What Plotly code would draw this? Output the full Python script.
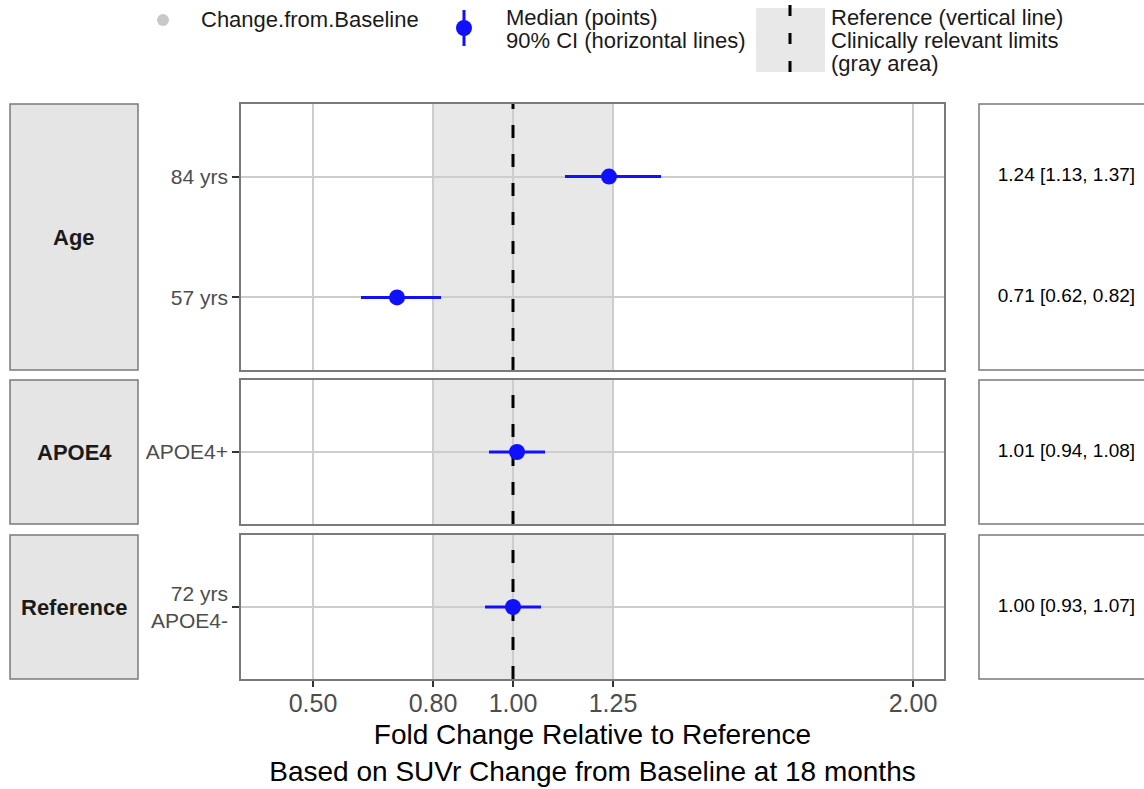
import plotly.graph_objects as go

# ---------------- data ----------------
groups = ["Age", "Age", "APOE4", "Reference"]
labels = ["84 yrs", "57 yrs", "APOE4+", "72 yrs<br>APOE4-"]
median = [1.24, 0.71, 1.01, 1.00]
lower = [1.13, 0.62, 0.94, 0.93]
upper = [1.37, 0.82, 1.08, 1.07]
panel_order = ["Age", "APOE4", "Reference"]

x_tickvals = [0.5, 0.8, 1.0, 1.25, 2.0]
x_ticktext = ["0.50", "0.80", "1.00", "1.25", "2.00"]
ref_value = 1.0
limit_low, limit_high = 0.8, 1.25
x_range = [0.32, 2.0775]

x_title = "Fold Change Relative to Reference<br>Based on SUVr Change from Baseline at 18 months"

# ---------------- layout helpers ----------------
W, H = 1144, 789
def px(x):
    return x / W
def py(y):
    return 1 - y / H

FONT = "Liberation Sans, Arial, Helvetica, sans-serif"
BLUE = "#1010FF"
BORDER = "#7A7A7A"
GRID = "#CDCDCD"
STRIP_FILL = "#E5E5E5"
AREA_FILL = "#E8E8E8"

main_x_dom = [px(241), px(944)]
table_x_dom = [px(979), 1.0]
row_pix = [(104, 370), (380, 524), (535, 679)]

fig = go.Figure()
layout = dict(
    width=W, height=H,
    margin=dict(l=0, r=0, t=0, b=0),
    paper_bgcolor="white", plot_bgcolor="white",
    showlegend=False,
    font=dict(family=FONT, color="#1A1A1A"),
)
shapes = []
annotations = []

for r, grp in enumerate(panel_order):
    k = r + 1
    sfx = "" if k == 1 else str(k)
    tk = k + 3
    idx = [i for i, g in enumerate(groups) if g == grp]
    n = len(idx)
    ypos = [n - j for j in range(n)]
    ylab = [labels[i] for i in idx]
    top, bot = row_pix[r]
    ydom = [py(bot), py(top)]
    yrange = [0.4, n + 0.6]
    last = (k == len(panel_order))

    # main axes
    xa = dict(
        domain=main_x_dom, anchor="y" + sfx, range=x_range,
        tickvals=x_tickvals, ticktext=x_ticktext,
        showticklabels=last, ticks="outside" if last else "",
        ticklen=6, tickwidth=2, tickcolor="#333333",
        tickfont=dict(size=25, color="#4D4D4D", family=FONT),
        ticklabelstandoff=-5,
        showgrid=True, gridcolor=GRID, gridwidth=2,
        zeroline=False, showline=True, mirror=True,
        linecolor=BORDER, linewidth=1.5,
    )
    if last:
        xa["title"] = dict(text=x_title, font=dict(size=28, color="#000000", family=FONT), standoff=9)
    layout["xaxis" + sfx] = xa
    layout["yaxis" + sfx] = dict(
        domain=ydom, anchor="x" + sfx, range=yrange,
        tickvals=ypos, ticktext=ylab,
        ticks="outside", ticklen=7, tickwidth=2, tickcolor="#333333",
        tickfont=dict(size=21, color="#4D4D4D", family=FONT),
        ticklabelstandoff=0,
        showgrid=True, gridcolor=GRID, gridwidth=2,
        zeroline=False, showline=True, mirror=True,
        linecolor=BORDER, linewidth=1.5,
    )
    # table axes
    layout["xaxis" + str(tk)] = dict(
        domain=table_x_dom, anchor="y" + str(tk), range=[0, 1],
        visible=False, fixedrange=True,
    )
    layout["yaxis" + str(tk)] = dict(
        domain=ydom, anchor="x" + str(tk), range=yrange,
        visible=False, fixedrange=True,
    )

    # clinically relevant area
    shapes.append(dict(type="rect", xref="x" + sfx, yref="y" + sfx,
                       x0=limit_low, x1=limit_high, y0=yrange[0], y1=yrange[1],
                       fillcolor=AREA_FILL, line=dict(width=0), layer="below"))

    # strip box
    shapes.append(dict(type="rect", xref="paper", yref="paper",
                       x0=px(10), x1=px(138), y0=ydom[0], y1=ydom[1],
                       fillcolor=STRIP_FILL, line=dict(color=BORDER, width=1.5), layer="below"))
    annotations.append(dict(xref="paper", yref="paper",
                            x=px(74), y=(ydom[0] + ydom[1]) / 2, text="<b>%s</b>" % grp, showarrow=False,
                            font=dict(size=22, color="#1A1A1A", family=FONT),
                            xanchor="center", yanchor="middle"))
    # table box
    shapes.append(dict(type="rect", xref="paper", yref="paper",
                       x0=px(979), x1=1.05, y0=ydom[0], y1=ydom[1],
                       fillcolor="rgba(0,0,0,0)", line=dict(color=BORDER, width=1.5), layer="above"))

    # reference line (drawn before points so points sit on top)
    fig.add_trace(go.Scatter(
        x=[ref_value, ref_value], y=yrange, mode="lines",
        xaxis="x" + sfx, yaxis="y" + sfx,
        line=dict(color="black", width=3, dash="13px,16px"),
        hoverinfo="skip",
    ))
    # data
    xm = [median[i] for i in idx]
    fig.add_trace(go.Scatter(
        x=xm, y=ypos, mode="markers",
        xaxis="x" + sfx, yaxis="y" + sfx,
        marker=dict(color=BLUE, size=16),
        error_x=dict(type="data", symmetric=False,
                     array=[upper[i] - median[i] for i in idx],
                     arrayminus=[median[i] - lower[i] for i in idx],
                     color=BLUE, thickness=3, width=0),
        hoverinfo="skip",
    ))
    fig.add_trace(go.Scatter(
        x=[0.53] * n, y=ypos, mode="text",
        xaxis="x" + str(tk), yaxis="y" + str(tk),
        text=["%.2f [%.2f, %.2f]" % (median[i], lower[i], upper[i]) for i in idx],
        textfont=dict(size=19, color="#000000", family=FONT),
        textposition="middle center", hoverinfo="skip",
    ))

# ---------------- legend (drawn) ----------------
LEG_FONT = dict(size=22, color="#1A1A1A", family=FONT)
shapes.append(dict(type="circle", xref="paper", yref="paper",
                   x0=px(157), x1=px(169), y0=py(26), y1=py(14),
                   fillcolor="#C8C8C8", line=dict(width=0)))
annotations.append(dict(xref="paper", yref="paper", x=px(199), y=py(20),
                        text="Change.from.Baseline", showarrow=False,
                        xanchor="left", yanchor="middle", font=LEG_FONT))
shapes.append(dict(type="line", xref="paper", yref="paper",
                   x0=px(464), x1=px(464), y0=py(46), y1=py(10),
                   line=dict(color=BLUE, width=3)))
shapes.append(dict(type="circle", xref="paper", yref="paper",
                   x0=px(456), x1=px(472), y0=py(36), y1=py(20),
                   fillcolor=BLUE, line=dict(width=0)))
for txt, yy in [("Median (points)", 18), ("90% CI (horizontal lines)", 41)]:
    annotations.append(dict(xref="paper", yref="paper", x=px(504), y=py(yy),
                            text=txt, showarrow=False,
                            xanchor="left", yanchor="middle", font=LEG_FONT))
shapes.append(dict(type="rect", xref="paper", yref="paper",
                   x0=px(756), x1=px(825), y0=py(72), y1=py(8),
                   fillcolor=AREA_FILL, line=dict(width=0)))
shapes.append(dict(type="line", xref="paper", yref="paper",
                   x0=px(790), x1=px(790), y0=py(5), y1=py(76),
                   line=dict(color="black", width=3, dash="11px,17px")))
for txt, yy in [("Reference (vertical line)", 17), ("Clinically relevant limits", 41), ("(gray area)", 64)]:
    annotations.append(dict(xref="paper", yref="paper", x=px(829), y=py(yy),
                            text=txt, showarrow=False,
                            xanchor="left", yanchor="middle", font=LEG_FONT))

layout["shapes"] = shapes
layout["annotations"] = annotations
fig.update_layout(**layout)
fig.write_html("out.html")
